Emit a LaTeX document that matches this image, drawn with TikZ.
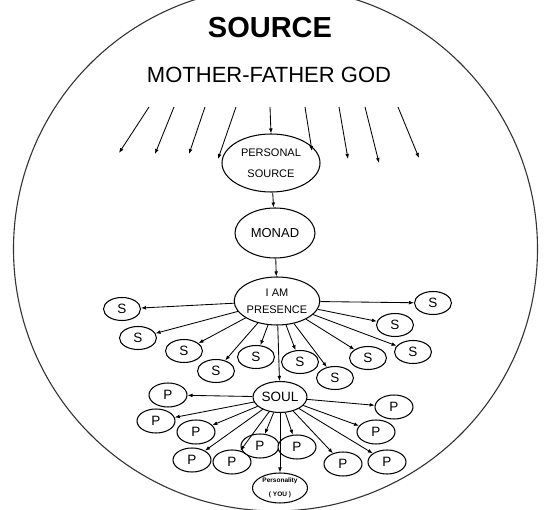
\documentclass[tikz,border=0pt]{standalone}
\usepackage{fontspec}
\setmainfont{Liberation Sans}
\usetikzlibrary{shapes.geometric,arrows.meta}
\begin{document}
\begin{tikzpicture}[x=1pt,y=-1pt,
  ell/.style={draw, ellipse, line width=1.05pt, inner sep=0pt, fill=white, align=center},
  sn/.style={ell, minimum width=37pt, minimum height=23pt, font=\fontsize{13.5}{13.5}\selectfont},
  pn/.style={ell, minimum width=38pt, minimum height=24pt, font=\fontsize{13.5}{13.5}\selectfont},
  arr/.style={-{Latex[length=5pt,width=3.8pt]}, line width=0.85pt},
]
\useasboundingbox (0,0) rectangle (550,510);
\begin{scope}
\clip (0,0) rectangle (550,510);
\draw[line width=1.1pt, black!80] (275.5,249) circle [radius=262pt];
\end{scope}

\node[font=\bfseries\fontsize{29}{29}\selectfont] (src) at (270,28) {SOURCE};
\node[font=\fontsize{22}{22}\selectfont] (mfg) at (269,74.5) {MOTHER-FATHER GOD};

\node[ell, minimum width=98pt, minimum height=58pt, font=\fontsize{11}{21}\selectfont] (ps) at (271,163) {PERSONAL\\SOURCE};
\node[ell, minimum width=80pt, minimum height=50pt, font=\fontsize{13}{13}\selectfont] (monad) at (275,233) {MONAD};
\node[ell, minimum width=81pt, minimum height=48pt, font=\fontsize{11}{17}\selectfont] (iam) at (277,301) {I AM\\PRESENCE};

\node[sn] (s1) at (122,309) {S};
\node[sn] (s2) at (138,338) {S};
\node[sn] (s3) at (184,351) {S};
\node[sn] (s4) at (216,371) {S};
\node[sn] (s5) at (256,357) {S};
\node[sn] (s6) at (300,362) {S};
\node[sn] (s7) at (335,378) {S};
\node[sn] (s8) at (368,358) {S};
\node[sn] (s9) at (395,325) {S};
\node[sn] (s10) at (413,352) {S};
\node[sn] (s11) at (433,303) {S};

\node[ell, minimum width=54pt, minimum height=31pt, font=\fontsize{13.5}{13.5}\selectfont] (soul) at (280,397) {SOUL};

\node[pn] (p1) at (168,395) {P};
\node[pn] (p2) at (156,421) {P};
\node[pn] (p3) at (196,432) {P};
\node[pn] (p4) at (192,460) {P};
\node[pn] (p5) at (232,462) {P};
\node[pn] (p6) at (260,446) {P};
\node[pn] (p7) at (297,447) {P};
\node[pn] (p8) at (343,464) {P};
\node[pn] (p9) at (387,462) {P};
\node[pn] (p10) at (376,432) {P};
\node[pn] (p11) at (394,407) {P};

\node[ell, minimum width=55pt, minimum height=30pt, font=\bfseries\fontsize{6.5}{14}\selectfont] (you) at (280,488) {Personality\\( YOU )};

% rays
\coordinate (a1) at (149,107); \coordinate (b1) at (119,153);
\coordinate (a2) at (174,107); \coordinate (b2) at (155,154);
\coordinate (a3) at (205,107); \coordinate (b3) at (189,154);
\coordinate (a4) at (236,107); \coordinate (b4) at (218,159);
\coordinate (a5) at (270,107);
\coordinate (a6) at (305,107); \coordinate (b6) at (312,151);
\coordinate (a7) at (339,107); \coordinate (b7) at (348,159);
\coordinate (a8) at (365,107); \coordinate (b8) at (379,163);
\coordinate (a9) at (398,107); \coordinate (b9) at (419,158);
\foreach \i in {1,2,3,4,6,7,8,9} \draw[arr] (a\i) -- (b\i);
\draw[arr] (a5) -- (ps.north);

\draw[arr] (ps) -- (monad);
\draw[arr] (monad) -- (iam);
\foreach \i in {1,...,11} \draw[arr] (iam) -- (s\i);
\draw[arr] (iam) -- (soul);
\foreach \i in {1,...,11} \draw[arr] (soul) -- (p\i);
\draw[arr] (soul) -- (you);
\end{tikzpicture}
\end{document}
